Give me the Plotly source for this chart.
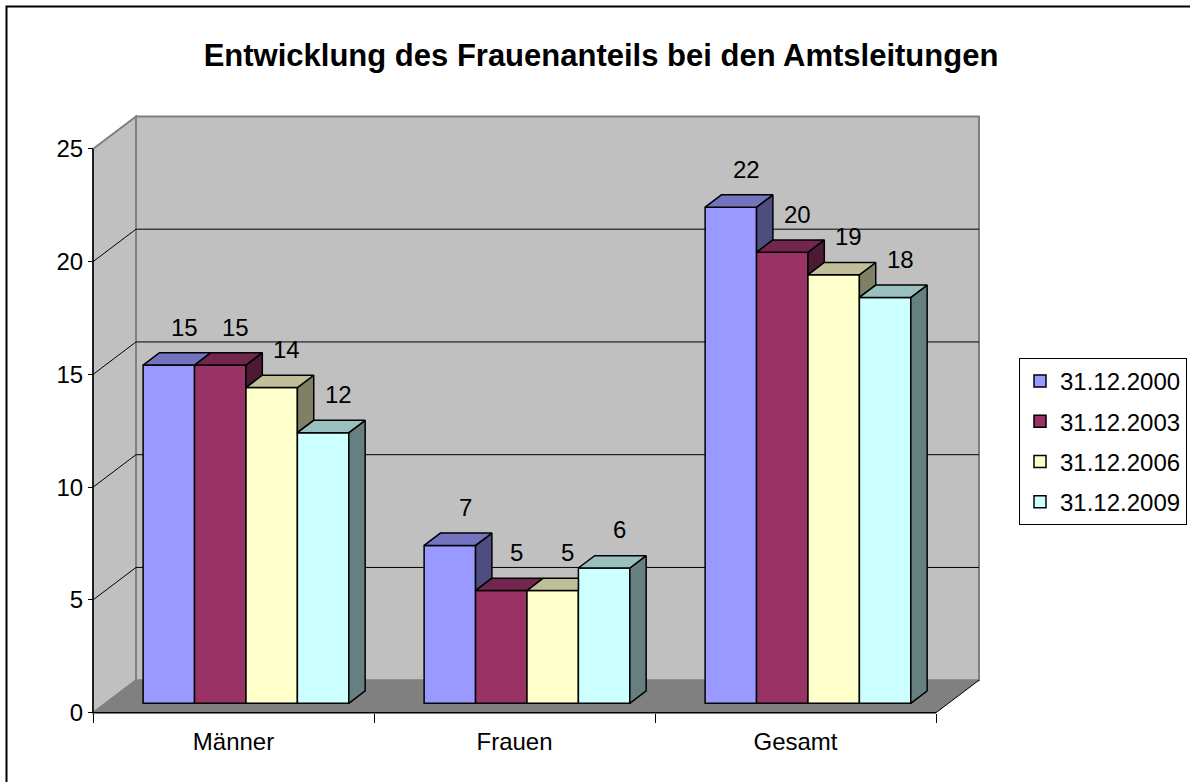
import plotly.graph_objects as go

# ---------------- data ----------------
categories = ["Männer", "Frauen", "Gesamt"]
series_names = ["31.12.2000", "31.12.2003", "31.12.2006", "31.12.2009"]
values_2000 = [15, 7, 22]
values_2003 = [15, 5, 20]
values_2006 = [14, 5, 19]
values_2009 = [12, 6, 18]
series_values = [values_2000, values_2003, values_2006, values_2009]
y_tick_values = [0, 5, 10, 15, 20, 25]
title_text = "Entwicklung des Frauenanteils bei den Amtsleitungen"

# ---------------- style ----------------
front_colors = ["#9999FF", "#993366", "#FFFFCC", "#CCFFFF"]
top_colors = ["#7373BF", "#73264D", "#BFBF99", "#99BFBF"]
side_colors = ["#4D4D80", "#4D1A33", "#808066", "#668080"]
FONT = "Liberation Sans, Arial, sans-serif"

W, H = 1190, 782
PX_PER_CAT = 281.0          # pixels per category on the front axis
PX_PER_UNIT = 22.55         # pixels per value unit
X0_PX, Y0_PX = 93.0, 712.7  # front origin of the 3D box
DX = 43.0 / PX_PER_CAT      # depth vector (axis units)
DY = 32.5 / PX_PER_UNIT
F0 = 0.29                   # bar front face depth fraction
FD = 0.38                   # bar depth fraction
BAR_W = 0.183               # bar width in category units
L, R, T, B = 20, 993, 100, 735  # plot area in pixels

n_cat = len(categories)
ymax = y_tick_values[-1]
base = F0 * DY
ddx, ddy = FD * DX, FD * DY

fig = go.Figure()

# front faces of the bars
bar_x = []
for s, (name, vals) in enumerate(zip(series_names, series_values)):
    xs = [c + 0.5 + (s - 1.5) * BAR_W + F0 * DX for c in range(n_cat)]
    bar_x.append(xs)
    fig.add_trace(go.Bar(
        x=xs, y=vals, base=base, width=BAR_W, name=name, legendgroup=name,
        marker=dict(color=front_colors[s], line=dict(color="black", width=1.5)),
        hoverinfo="skip",
    ))


def poly(xs, ys, color):
    fig.add_trace(go.Scatter(
        x=xs + [xs[0]], y=ys + [ys[0]], mode="lines", fill="toself",
        fillcolor=color, line=dict(color="black", width=1.5),
        hoverinfo="skip", showlegend=False,
    ))


# top and side faces (visible parts only)
n_ser = len(series_values)
for c in range(n_cat):
    for s in range(n_ser):
        t = base + series_values[s][c]
        x0 = bar_x[s][c] - BAR_W / 2
        x1 = bar_x[s][c] + BAR_W / 2
        has_next = s < n_ser - 1
        tn = base + series_values[s + 1][c] if has_next else None
        # side face
        low = tn if has_next else base
        if low < t:
            poly([x1, x1, x1 + ddx, x1 + ddx], [low, t, t + ddy, low + ddy], side_colors[s])
        # top face
        if has_next and tn > t:
            if tn >= t + ddy:
                px_ = [x0, x1, x1, x0 + ddx]
                py_ = [t, t, t + ddy, t + ddy]
            else:
                xb = x1 + ddx * (tn - t) / ddy
                px_ = [x0, x1, x1, xb, x1 + ddx, x0 + ddx]
                py_ = [t, t, tn, tn, t + ddy, t + ddy]
        else:
            px_ = [x0, x1, x1 + ddx, x0 + ddx]
            py_ = [t, t, t + ddy, t + ddy]
        poly(px_, py_, top_colors[s])

# data labels
for s in range(n_ser):
    for c in range(n_cat):
        v = series_values[s][c]
        fig.add_annotation(
            x=bar_x[s][c] + ddx / 2, y=base + v, text=str(v), showarrow=False,
            xanchor="center", yanchor="middle", yshift=38, xshift=7,
            font=dict(family=FONT, size=24, color="black"),
        )

# walls, floor, gridlines
shapes = []
gray_wall = "#C0C0C0"
shapes.append(dict(type="path", xref="x", yref="y", layer="below",
                   path=f"M0,0 L{n_cat},0 L{n_cat + DX},{DY} L{DX},{DY} Z",
                   fillcolor="#808080", line=dict(width=0)))
shapes.append(dict(type="rect", xref="x", yref="y", layer="below",
                   x0=DX, x1=n_cat + DX, y0=DY, y1=ymax + DY,
                   fillcolor=gray_wall, line=dict(color="#808080", width=2)))
shapes.append(dict(type="path", xref="x", yref="y", layer="below",
                   path=f"M0,0 L{DX},{DY} L{DX},{ymax + DY} L0,{ymax} Z",
                   fillcolor=gray_wall, line=dict(color="#808080", width=2)))
for v in y_tick_values[1:-1]:
    shapes.append(dict(type="line", xref="x", yref="y", layer="below",
                       x0=DX, x1=n_cat + DX, y0=v + DY, y1=v + DY,
                       line=dict(color="black", width=1)))
    shapes.append(dict(type="line", xref="x", yref="y", layer="below",
                       x0=0, x1=DX, y0=v, y1=v + DY,
                       line=dict(color="black", width=1)))
# floor edges and axis lines
shapes.append(dict(type="line", xref="x", yref="y", layer="below",
                   x0=n_cat, x1=n_cat + DX, y0=0, y1=DY, line=dict(color="black", width=1)))
shapes.append(dict(type="line", xref="x", yref="y", layer="below",
                   x0=0, x1=n_cat, y0=0, y1=0, line=dict(color="black", width=1.5)))
shapes.append(dict(type="line", xref="x", yref="y", layer="below",
                   x0=0, x1=0, y0=0, y1=ymax, line=dict(color="black", width=1.5)))
# outer chart border
pw, ph = R - L, B - T
shapes.append(dict(type="rect", xref="paper", yref="paper",
                   x0=(6.5 - L) / pw, x1=(W + 10 - L) / pw,
                   y0=(B - (H + 10)) / ph, y1=(B - 6.5) / ph,
                   line=dict(color="black", width=2), fillcolor="rgba(0,0,0,0)"))

fig.update_layout(
    width=W, height=H,
    margin=dict(l=L, r=W - R, t=T, b=H - B, autoexpand=False),
    paper_bgcolor="white", plot_bgcolor="white",
    barmode="overlay",
    font=dict(family=FONT, size=24, color="black"),
    title=dict(text=f"<b>{title_text}</b>", x=601 / W, xanchor="center",
               y=1 - 55 / H, yanchor="middle",
               font=dict(family=FONT, size=31, color="black")),
    shapes=shapes,
    xaxis=dict(
        range=[(L - X0_PX) / PX_PER_CAT, (R - X0_PX) / PX_PER_CAT],
        anchor="free", position=(B - Y0_PX) / ph,
        tickmode="array", tickvals=[c + 0.5 for c in range(n_cat)], ticktext=categories,
        ticks="", showgrid=False, zeroline=False, showline=False,
        ticklabelstandoff=12,
        minor=dict(tickmode="array", tickvals=list(range(n_cat + 1)), ticks="outside",
                   ticklen=9, tickcolor="black", tickwidth=1, showgrid=False),
        tickfont=dict(family=FONT, size=24, color="black"),
    ),
    yaxis=dict(
        range=[(Y0_PX - B) / PX_PER_UNIT, (Y0_PX - T) / PX_PER_UNIT],
        anchor="free", position=(X0_PX - L) / pw,
        tickmode="array", tickvals=y_tick_values,
        ticks="outside", ticklen=5, tickcolor="black", tickwidth=1,
        showgrid=False, zeroline=False, showline=False,
        tickfont=dict(family=FONT, size=24, color="black"),
    ),
    legend=dict(
        x=(1019 - L) / pw, xanchor="left", y=(B - 358) / ph, yanchor="top",
        bordercolor="black", borderwidth=1, bgcolor="white",
        font=dict(family=FONT, size=24, color="black"),
        tracegroupgap=6, itemwidth=30,
    ),
)

fig.write_html("out.html", config={"displayModeBar": False},
               post_script="document.body.style.margin='0';")
